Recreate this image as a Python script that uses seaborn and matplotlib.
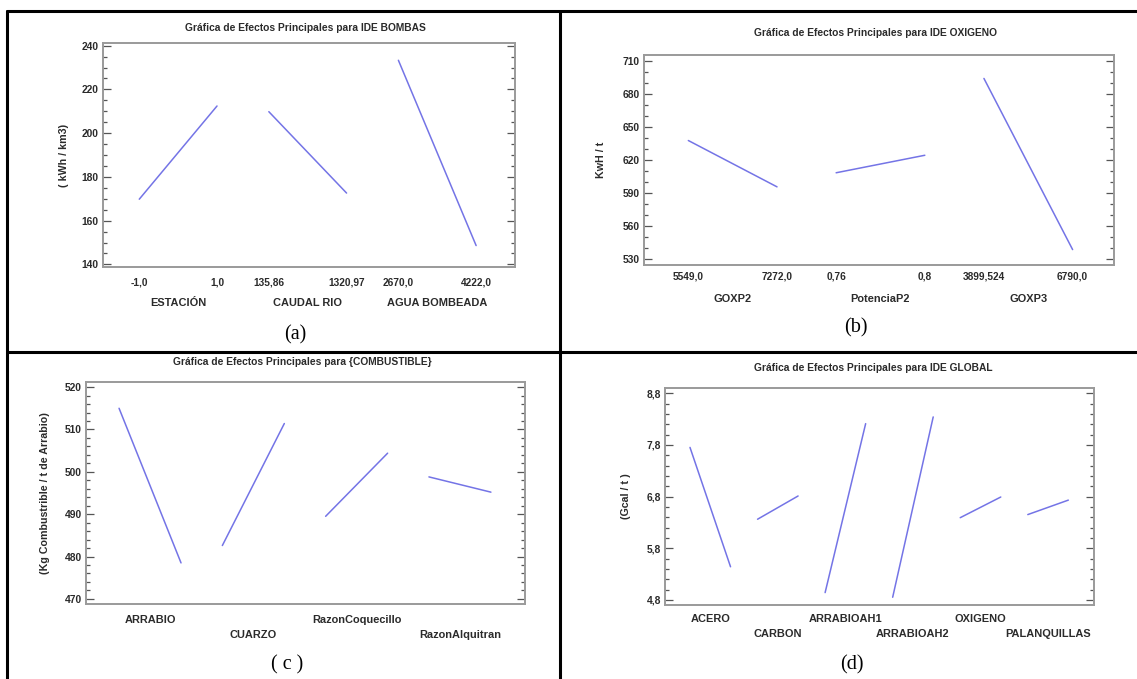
import numpy as np
import pandas as pd
import matplotlib
matplotlib.use("Agg")
import matplotlib.pyplot as plt
from matplotlib.lines import Line2D
from matplotlib.ticker import FixedLocator, FuncFormatter
import seaborn as sns

sns.set_style("white")
plt.rcParams['font.family'] = ['Liberation Sans', 'DejaVu Sans']

# ------------------------------
# Datos
# ------------------------------

# (a) IDE BOMBAS
factores_a = ['ESTACIÓN', 'CAUDAL RIO', 'AGUA BOMBEADA']
niveles_a = ['-1,0', '1,0', '135,86', '1320,97', '2670,0', '4222,0']
bajo_a = [169.8, 209.8, 233.3]
alto_a = [212.4, 172.6, 148.6]
yticks_a = [140, 160, 180, 200, 220, 240]

# (b) IDE OXIGENO
factores_b = ['GOXP2', 'PotenciaP2', 'GOXP3']
niveles_b = ['5549,0', '7272,0', '0,76', '0,8', '3899,524', '6790,0']
bajo_b = [637.7, 608.4, 694.1]
alto_b = [595.6, 624.3, 538.6]
yticks_b = [530, 560, 590, 620, 650, 680, 710]

# (c) COMBUSTIBLE
factores_c = ['ARRABIO', 'CUARZO', 'RazonCoquecillo', 'RazonAlquitran']
bajo_c = [515.0, 482.6, 489.5, 498.8]
alto_c = [478.5, 511.4, 504.4, 495.2]
yticks_c = [470, 480, 490, 500, 510, 520]

# (d) IDE GLOBAL
factores_d = ['ACERO', 'CARBON', 'ARRABIOAH1', 'ARRABIOAH2', 'OXIGENO', 'PALANQUILLAS']
bajo_d = [7.75, 6.36, 4.94, 4.85, 6.39, 6.45]
alto_d = [5.44, 6.81, 8.21, 8.34, 6.79, 6.73]
yticks_d = [4.8, 5.8, 6.8, 7.8, 8.8]

# ------------------------------
# Figura
# ------------------------------
W, H = 1137, 679
fig = plt.figure(figsize=(W / 100, H / 100), dpi=100)
fig.patch.set_facecolor('white')

LINEA = '#7474e6'
TEXTO = '#2b2b2b'
GRIS = '#9a9a9a'


def ejes(x0, y0, x1, y1):
    return fig.add_axes([x0 / W, 1 - y1 / H, (x1 - x0) / W, (y1 - y0) / H])


def grafica(ax, factores, bajo, alto, yticks, nmenor, pad, fmt, margen):
    filas = []
    for i, f in enumerate(factores):
        filas.append({'factor': f, 'pos': 5 * i, 'valor': bajo[i]})
        filas.append({'factor': f, 'pos': 5 * i + 3, 'valor': alto[i]})
    df = pd.DataFrame(filas)
    sns.lineplot(data=df, x='pos', y='valor', units='factor', estimator=None,
                 color=LINEA, lw=1.1, ax=ax, legend=False)
    n = len(factores)
    ax.set_xlim(-margen[0], 5 * (n - 1) + 3 + margen[1])
    paso = yticks[1] - yticks[0]
    ax.set_ylim(yticks[0] - pad * paso, yticks[-1] + pad * paso)
    menores = np.linspace(yticks[0], yticks[-1], (len(yticks) - 1) * nmenor + 1)
    ax.yaxis.set_major_locator(FixedLocator(yticks))
    ax.yaxis.set_minor_locator(FixedLocator(menores))
    ax.yaxis.set_major_formatter(FuncFormatter(lambda v, p: fmt.format(v).replace('.', ',')))
    ax.tick_params(axis='y', which='both', direction='in', left=True, right=True,
                   color='#555555', width=0.9, labelsize=7.4, labelcolor=TEXTO, pad=3)
    ax.tick_params(axis='y', which='major', length=6)
    ax.tick_params(axis='y', which='minor', length=3)
    for lab in ax.get_yticklabels():
        lab.set_fontweight('bold')
    ax.set_xticks([])
    ax.set_xlabel('')
    ax.set_ylabel('')
    for s in ax.spines.values():
        s.set_color(GRIS)
        s.set_linewidth(1.4)
    return df


def etiqueta(ax, x, texto, dy, size=7.5):
    ax.annotate(texto, xy=(x, 0), xycoords=ax.get_xaxis_transform(),
                xytext=(0, -dy), textcoords='offset pixels', ha='center', va='center',
                fontsize=size, fontweight='bold', color=TEXTO)


# (a)
ax_a = ejes(103, 43, 515, 267)
grafica(ax_a, factores_a, bajo_a, alto_a, yticks_a, 4, 0.06, '{:.0f}', (1.4, 1.5))
for i, f in enumerate(factores_a):
    etiqueta(ax_a, 5 * i, niveles_a[2 * i], 16, 7.3)
    etiqueta(ax_a, 5 * i + 3, niveles_a[2 * i + 1], 16, 7.3)
    etiqueta(ax_a, 5 * i + 1.5, f, 36, 7.9)

# (b)
ax_b = ejes(644, 55, 1114, 265)
grafica(ax_b, factores_b, bajo_b, alto_b, yticks_b, 3, 0.18, '{:.0f}', (1.5, 1.4))
for i, f in enumerate(factores_b):
    etiqueta(ax_b, 5 * i, niveles_b[2 * i], 12, 7.3)
    etiqueta(ax_b, 5 * i + 3, niveles_b[2 * i + 1], 12, 7.3)
    etiqueta(ax_b, 5 * i + 1.5, f, 34, 7.9)

# (c)
ax_c = ejes(86, 382, 525, 604)
grafica(ax_c, factores_c, bajo_c, alto_c, yticks_c, 5, 0.12, '{:.0f}', (1.6, 1.65))
for i, f in enumerate(factores_c):
    etiqueta(ax_c, 5 * i + 1.5, f, 16 if i % 2 == 0 else 31, 7.9)

# (d)
ax_d = ejes(665, 388, 1094, 605)
grafica(ax_d, factores_d, bajo_d, alto_d, yticks_d, 5, 0.1, '{:.1f}', (1.85, 1.9))
for i, f in enumerate(factores_d):
    etiqueta(ax_d, 5 * i + 1.5, f, 14 if i % 2 == 0 else 29, 7.9)

# Títulos y ejes Y
titulos = [
    ('Gráfica de Efectos Principales para IDE BOMBAS', 305, 28),
    ('Gráfica de Efectos Principales para IDE OXIGENO', 876, 33),
    ('Gráfica de Efectos Principales para {COMBUSTIBLE}', 302, 362),
    ('Gráfica de Efectos Principales para IDE GLOBAL', 873, 368),
]
for t, x, y in titulos:
    fig.text(x / W, 1 - y / H, t, ha='center', va='center', fontsize=7.4,
             fontweight='bold', color=TEXTO)

ylabels = [
    ('( kWh / km3)', 64, 155),
    ('KwH / t', 601, 160),
    ('(Kg Combustrible / t de Arrabio)', 45, 493),
    ('(Gcal / t )', 626, 496),
]
for t, x, y in ylabels:
    fig.text(x / W, 1 - y / H, t, ha='center', va='center', rotation=90,
             fontsize=7.7, fontweight='bold', color=TEXTO)

# Etiquetas de los paneles
paneles = [('(a)', 295, 335), ('(b)', 856, 328), ('( c )', 287, 665), ('(d)', 852, 665)]
for t, x, y in paneles:
    fig.text(x / W, 1 - y / H, t, ha='center', va='center', fontsize=14.5,
             family=['Liberation Serif', 'DejaVu Serif'], color='black')

# Bordes de la tabla
bordes = [
    ((7, 1137), (11, 11)),
    ((7, 1137), (352, 352)),
    ((7, 7), (11, 679)),
    ((560, 560), (11, 679)),
]
for xs, ys in bordes:
    fig.add_artist(Line2D([xs[0] / W, xs[1] / W], [1 - ys[0] / H, 1 - ys[1] / H],
                          transform=fig.transFigure, color='black', lw=2.2))

plt.savefig('out.png', dpi=100, facecolor='white')
